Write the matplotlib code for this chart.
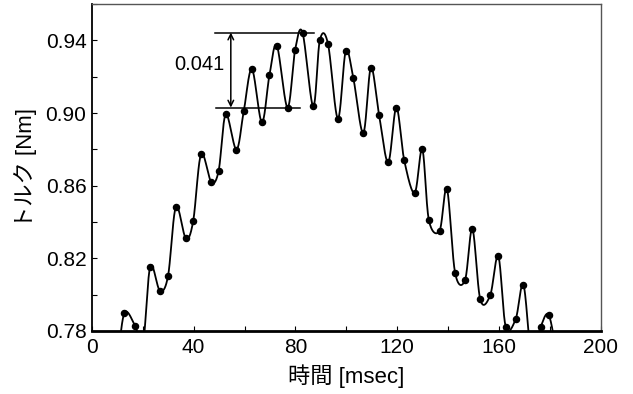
import numpy as np
import matplotlib
matplotlib.use("Agg")
import matplotlib.pyplot as plt
from matplotlib.ticker import MultipleLocator, FormatStrFormatter

plt.rcParams['font.family'] = ['Liberation Sans', 'Noto Sans CJK JP', 'DejaVu Sans']

time_ms = [9.9, 12.7, 17.0, 20.0, 22.9, 26.7, 29.9, 33.0, 36.9, 39.8, 42.9, 46.9, 49.8,
           52.6, 56.8, 59.7, 62.9, 66.8, 69.8, 72.7, 76.9, 79.9, 82.8, 87.0, 89.6, 92.8,
           96.7, 99.8, 102.8, 106.7, 109.7, 112.9, 116.5, 119.7, 122.8, 126.9, 129.9,
           132.5, 136.7, 139.6, 142.8, 146.7, 149.6, 152.7, 156.6, 159.8, 162.7, 166.6,
           169.7, 173.0, 176.5, 179.7, 183.0]
torque = [0.760, 0.7897, 0.7827, 0.772, 0.8154, 0.8022, 0.8102, 0.8483, 0.8310, 0.8405,
          0.8773, 0.8621, 0.8681, 0.8993, 0.8799, 0.9011, 0.9242, 0.8949, 0.9209, 0.9371,
          0.9030, 0.9349, 0.9443, 0.9037, 0.9400, 0.9382, 0.8969, 0.9340, 0.9191, 0.8890,
          0.9250, 0.8989, 0.8729, 0.9030, 0.8740, 0.8560, 0.8801, 0.8410, 0.8352, 0.8582,
          0.8121, 0.8080, 0.8362, 0.7974, 0.7996, 0.8212, 0.7824, 0.7864, 0.8053, 0.765,
          0.7824, 0.7886, 0.765]

ripple_top = 0.9443
ripple_bottom = 0.9030
ripple_label = "0.041"

x_ticks = [0, 40, 80, 120, 160, 200]
y_ticks = [0.78, 0.82, 0.86, 0.90, 0.94]


def smooth_line(ax, x, y, n=40):
    """Bezier smoothing (Catmull-Rom style) computed in display space."""
    pts = ax.transData.transform(np.column_stack([x, y]))
    P = np.vstack([pts[0], pts, pts[-1]])
    t = np.linspace(0, 1, n)[:, None]
    out = []
    for i in range(1, len(P) - 2):
        p0, p1, p2, p3 = P[i - 1], P[i], P[i + 1], P[i + 2]
        c1 = p1 + (p2 - p0) / 6.0
        c2 = p2 - (p3 - p1) / 6.0
        seg = ((1 - t) ** 3) * p1 + 3 * ((1 - t) ** 2) * t * c1 + 3 * (1 - t) * t ** 2 * c2 + t ** 3 * p2
        out.append(seg)
    out = np.vstack(out)
    return ax.transData.inverted().transform(out)


fig = plt.figure(figsize=(6.33, 3.94), dpi=100)
ax = fig.add_axes([0.1453, 0.1599, 0.8034, 0.8299])
ax.set_xlim(0, 200)
ax.set_ylim(0.78, 0.96)

curve = smooth_line(ax, time_ms, torque)
ax.plot(curve[:, 0], curve[:, 1], color='black', lw=1.3)
ax.plot(time_ms, torque, 'o', color='black', ms=4.4)

ax.set_xticks(x_ticks)
ax.set_yticks(y_ticks)
ax.xaxis.set_minor_locator(MultipleLocator(20))
ax.yaxis.set_minor_locator(MultipleLocator(0.02))
ax.yaxis.set_major_formatter(FormatStrFormatter('%.2f'))
ax.tick_params(which='both', direction='in', length=3.5, width=0.8, labelsize=15)
ax.tick_params(axis='x', pad=5)
ax.tick_params(axis='y', pad=4)

for s in ['top', 'right']:
    ax.spines[s].set_color('#555555')
    ax.spines[s].set_linewidth(1.0)
ax.spines['left'].set_linewidth(1.3)
ax.spines['bottom'].set_linewidth(2.0)

# ripple annotation
ax.plot([48.2, 87.3], [ripple_top, ripple_top], color='black', lw=1.1)
ax.plot([48.7, 81.7], [ripple_bottom, ripple_bottom], color='black', lw=1.1)
ax.annotate('', xy=(54.6, ripple_top), xytext=(54.6, ripple_bottom),
            arrowprops=dict(arrowstyle='<->', color='black', lw=1.1,
                            shrinkA=0, shrinkB=0, mutation_scale=10))
ax.text(52.3, 0.9268, ripple_label, ha='right', va='center', fontsize=14.5)

ax.set_xlabel('時間 [msec]', fontsize=16, labelpad=5)
ax.set_ylabel('トルク [Nm]', fontsize=16, labelpad=6)

fig.savefig('out.png', dpi=100)
